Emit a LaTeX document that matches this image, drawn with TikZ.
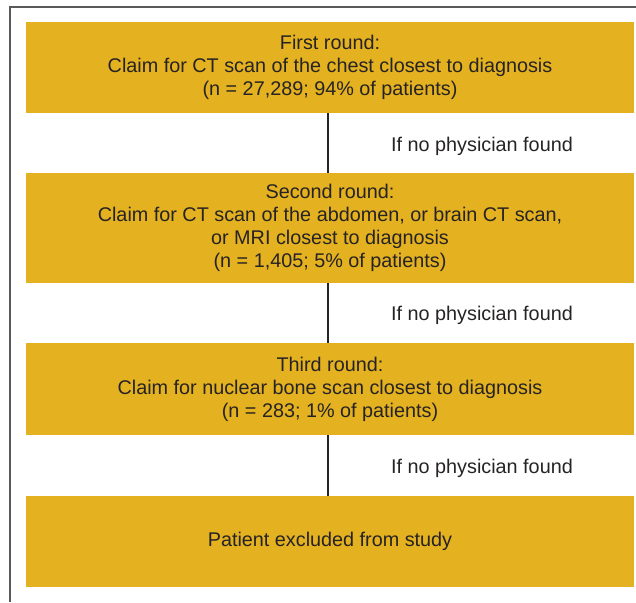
\documentclass[tikz,border=0pt]{standalone}
\usepackage{fontspec}
\setmainfont{Liberation Sans}
\definecolor{boxgold}{HTML}{E4B120}
\definecolor{txt}{HTML}{262324}
\definecolor{frame}{HTML}{5A5A5A}
\begin{document}
\begin{tikzpicture}[x=1pt,y=-1pt,
  roundbox/.style={fill=boxgold, draw=none, minimum width=608pt, inner sep=0pt, align=center,
    text=txt, font=\fontsize{19.8pt}{23pt}\selectfont},
  lbl/.style={text=txt, font=\fontsize{19.8pt}{23pt}\selectfont, inner sep=0pt},
  conn/.style={draw=txt, line width=2.5pt}]
\useasboundingbox (0,0) rectangle (636,602);
\draw[frame, line width=2pt] (9.5,602) -- (9.5,7) -- (636,7);
\node[roundbox, minimum height=91pt] (b1) at (330,67.5) {\raisebox{-1pt}{\parbox{600pt}{\centering First round:\\Claim for CT scan of the chest closest to diagnosis\\(n = 27,289; 94\% of patients)}}};
\node[roundbox, minimum height=110pt] (b2) at (330,228) {\raisebox{-1pt}{\parbox{600pt}{\centering Second round:\\Claim for CT scan of the abdomen, or brain CT scan,\\or MRI closest to diagnosis\\(n = 1,405; 5\% of patients)}}};
\node[roundbox, minimum height=92pt] (b3) at (330,389) {\raisebox{-1pt}{\parbox{600pt}{\centering Third round:\\Claim for nuclear bone scan closest to diagnosis\\(n = 283; 1\% of patients)}}};
\node[roundbox, minimum height=91pt] (b4) at (330,541.5) {\raisebox{-1pt}{Patient excluded from study}};
\draw[conn] ([xshift=-2pt]b1.south) -- ([xshift=-2pt]b2.north);
\draw[conn] ([xshift=-2pt]b2.south) -- ([xshift=-2pt]b3.north);
\draw[conn] ([xshift=-2pt]b3.south) -- ([xshift=-2pt]b4.north);
\node[lbl] (l1) at (482,146) {If no physician found};
\node[lbl] (l2) at (482,315) {If no physician found};
\node[lbl] (l3) at (482,468) {If no physician found};
\end{tikzpicture}
\end{document}
